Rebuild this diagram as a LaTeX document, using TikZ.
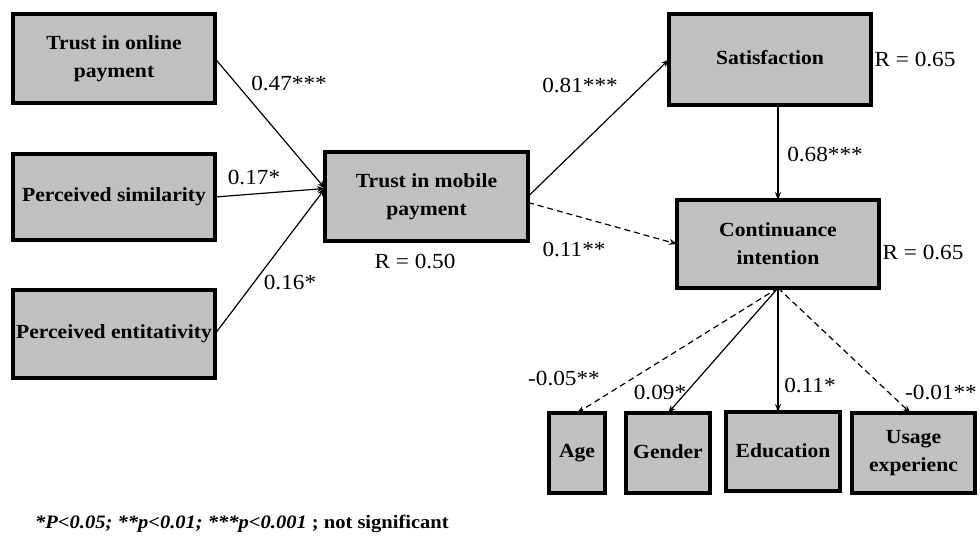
\documentclass[tikz,border=0pt]{standalone}
\usepackage{fontspec}
\setmainfont[FakeStretch=1.08]{Liberation Serif}
\usetikzlibrary{arrows.meta,shadows,calc}
\definecolor{boxgray}{RGB}{192,192,192}
\definecolor{shadowtint}{RGB}{200,170,170}
\begin{document}
\begin{tikzpicture}[x=1pt,y=-1pt,
  construct/.style={draw, line width=4pt, fill=boxgray, inner sep=0pt, outer sep=0pt,
    align=center, font=\fontsize{20}{28}\selectfont\bfseries,
    drop shadow={shadow xshift=2pt, shadow yshift=-2pt, fill=shadowtint, opacity=1}},
  coef/.style={font=\fontsize{21.5}{24}\selectfont, inner sep=0pt},
  path/.style={line width=1.2pt, -{Stealth[length=8pt,width=6pt]}},
  weak/.style={path, dash pattern=on 6pt off 4pt}]

\useasboundingbox (0,0) rectangle (980,538);

% exogenous constructs
\node[construct, minimum width=202pt, minimum height=89pt] (online) at (114,58.5) {Trust in online\\payment};
\node[construct, minimum width=202pt, minimum height=86pt] (similar) at (114,197) {Perceived similarity};
\node[construct, minimum width=202pt, minimum height=88pt] (entit) at (114,334) {Perceived entitativity};

% mediator and outcomes
\node[construct, minimum width=203pt, minimum height=89pt] (mobile) at (426.5,196.5) {Trust in mobile\\payment};
\node[construct, minimum width=202pt, minimum height=91pt] (satis) at (770,59.5) {\raisebox{4pt}{Satisfaction}};
\node[construct, minimum width=202pt, minimum height=88pt] (cont) at (778,244) {Continuance\\intention};

% control variables
\node[construct, minimum width=56pt, minimum height=80pt] (age) at (577,453) {\raisebox{3pt}{Age}};
\node[construct, minimum width=84pt, minimum height=80pt] (gender) at (668,453) {\raisebox{3pt}{Gender}};
\node[construct, minimum width=114pt, minimum height=79pt] (edu) at (783,451.5) {\raisebox{2pt}{Education}};
\node[construct, minimum width=123pt, minimum height=80pt] (usage) at (913.5,453) {Usage\\experienc};

% structural paths
\coordinate (mobin) at ($(mobile.west)+(0,-8)$);
\draw[path] (online.east) -- (mobin);
\draw[path] (similar.east) -- (mobin);
\draw[path] (entit.east) -- (mobin);
\draw[path] (mobile.east) -- (satis.west);
\draw[weak] ($(mobile.east)+(0,6)$) -- (cont.west);
\draw[path] (cont.north |- satis.south) -- (cont.north);

% control paths
\draw[weak] (cont.south) -- (age.north);
\draw[path] (cont.south) -- (gender.north);
\draw[path] (cont.south) -- (cont.south |- edu.north);
\draw[weak] (cont.south) -- ($(usage.north)+(-3,0)$);

% coefficients
\node[coef] (c1) at (289,84) {0.47***};
\node[coef] (c2) at (254,178) {0.17*};
\node[coef] (c3) at (290,282) {0.16*};
\node[coef] (c4) at (580,86) {0.81***};
\node[coef] (c5) at (574,250) {0.11**};
\node[coef] (c6) at (825,155) {0.68***};
\node[coef] (c7) at (564,378) {-0.05**};
\node[coef] (c8) at (660,392) {0.09*};
\node[coef] (c9) at (810,385) {0.11*};
\node[coef] (c10) at (941,392) {-0.01**};

% explained variance
\node[coef] (r1) at (415,262) {R = 0.50};
\node[coef] (r2) at (915,60) {R = 0.65};
\node[coef] (r3) at (923,252) {R = 0.65};

% significance key
\node[anchor=west, inner sep=0pt, font=\fontsize{19}{21}\selectfont\bfseries] (key) at (35,524)
  {\itshape *P<0.05; **p<0.01; ***p<0.001\upshape{} ; not significant};
\end{tikzpicture}
\end{document}
